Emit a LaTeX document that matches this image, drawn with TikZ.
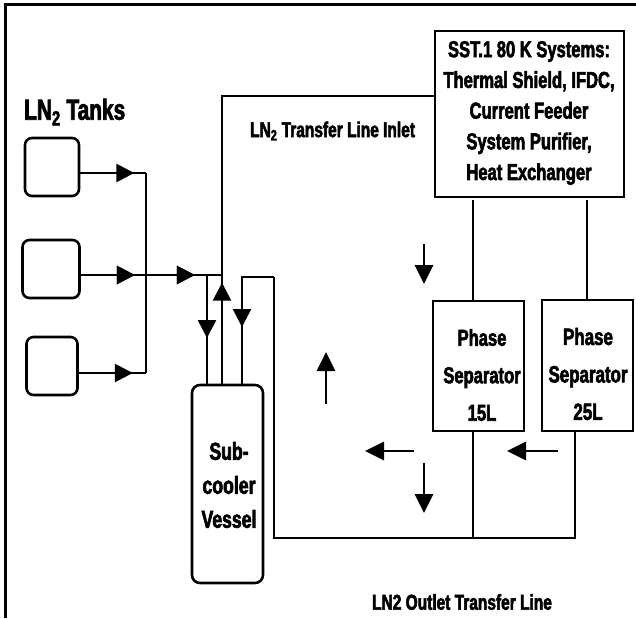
\documentclass[tikz,border=0pt]{standalone}
\usepackage{fontspec}
\setmainfont{Liberation Sans}[FakeStretch=0.72,
  BoldFont={Liberation Sans Bold},BoldFeatures={FakeStretch=0.72,FakeBold=2.5}]
\usetikzlibrary{arrows.meta,decorations.markings}
\begin{document}
\begin{tikzpicture}[x=1pt,y=-1pt,
  pipe/.style={line width=2.7pt},
  box/.style={draw,line width=2.8pt,minimum width=#1},
  tankbox/.style={draw,line width=2.6pt,rounded corners=7pt,minimum width=54pt,minimum height=58pt},
  flowarrow/.style={line width=2.8pt,-{Triangle[length=19pt,width=18pt]}},
  midarrow/.style={postaction={decorate},decoration={markings,
     mark=at position #1 with {\arrow{Triangle[length=18pt,width=18pt]}}}},
  lbl/.style={font=\bfseries,align=center,inner sep=0pt}
]
\useasboundingbox (0,0) rectangle (636,618);
% frame
\coordinate (f0) at (5,618);
\coordinate (f1) at (5,5);
\coordinate (f2) at (636,5);
\draw[line width=3pt] (f0) -- (f1) -- (f2);

% tanks
\node[tankbox] (tank1) at (52,167) {};
\node[tankbox,minimum width=57pt] (tank2) at (51,269) {};
\node[tankbox,minimum width=51pt] (tank3) at (52,366) {};
\node[lbl,anchor=west,font=\bfseries\fontsize{29}{30}\selectfont] (tanks) at (24,112) {LN\textsubscript{2} Tanks};

% SST box
\node[box=189pt,minimum height=166pt] (sst) at (529.5,114) {};
\node[lbl,font=\bfseries\fontsize{23}{30.7}\selectfont] (sstt) at (529,113) {SST.1 80 K Systems:\\Thermal Shield, IFDC,\\Current Feeder\\System Purifier,\\Heat Exchanger};

% phase separators
\node[box=91pt,minimum height=130pt] (ps15) at (478.5,366) {};
\node[lbl,font=\bfseries\fontsize{23}{37.5}\selectfont] (ps15t) at (482,375) {Phase\\Separator\\15L};
\node[box=91pt,minimum height=131pt] (ps25) at (587.5,365.5) {};
\node[lbl,font=\bfseries\fontsize{23.5}{37.5}\selectfont] (ps25t) at (588,374) {Phase\\Separator\\25L};

% vessel
\node[draw,line width=2.6pt,rounded corners=8pt,minimum width=71pt,minimum height=198pt] (vessel) at (227.5,484) {};
\node[lbl,font=\bfseries\fontsize{24.5}{34}\selectfont] (vesselt) at (229,485) {Sub-\\cooler\\Vessel};

% labels
\node[lbl,anchor=west,font=\bfseries\fontsize{21.5}{24}\selectfont] (inlet) at (250,131) {LN\textsubscript{2} Transfer Line Inlet};
\node[lbl,font=\bfseries\fontsize{21.5}{24}\selectfont] (outlet) at (462,602) {LN2 Outlet Transfer Line};

% bus / junction coordinates
\coordinate (b1) at (146,173);
\coordinate (b2) at (146,275);
\coordinate (b3) at (146,373);
\coordinate (j) at (222,275);
\coordinate (c) at (222,96);
\coordinate (v1) at (207,275);
\coordinate (k1) at (242,277);
\coordinate (k2) at (274,277);
\coordinate (k3) at (274,538);
\coordinate (k4) at (575,538);
\coordinate (p15) at (473,538);
\coordinate (s15) at (473,200);
\coordinate (s25) at (587,200);

% tank lines
\draw[pipe,midarrow=54pt] (tank1.east |- b1) -- (b1);
\draw[pipe,midarrow=54pt] (tank3.east |- b3) -- (b3);
\draw[pipe,midarrow=54pt,midarrow=114pt] (tank2.east |- b2) -- (j);
\draw[pipe] (b1) -- (b3);

% inlet line to SST
\draw[pipe] (j) -- (c) -- (sst.west |- c);

% vessel connections
\draw[pipe,midarrow=63pt] (v1) -- (v1 |- vessel.north);
\draw[pipe,midarrow=101pt] (j |- vessel.north) -- (j);
\draw[pipe,midarrow=82pt] (k2) -- (k1) -- (k1 |- vessel.north);

% outlet line
\draw[pipe] (ps25.south -| k4) -- (k4) -- (k3) -- (k2);
\draw[pipe] (ps15.south -| p15) -- (p15);

% SST to separators
\draw[pipe] (s15) -- (s15 |- ps15.north);
\draw[pipe] (s25) -- (s25 |- ps25.north);

% free flow arrows
\coordinate (a1s) at (424,244); \coordinate (a1e) at (424,284);
\coordinate (a2s) at (326,404); \coordinate (a2e) at (326,352);
\coordinate (a3s) at (414,451); \coordinate (a3e) at (365,451);
\coordinate (a4s) at (424,463); \coordinate (a4e) at (424,513);
\coordinate (a5s) at (558,451); \coordinate (a5e) at (507,451);
\draw[flowarrow] (a1s) -- (a1e);
\draw[flowarrow] (a2s) -- (a2e);
\draw[flowarrow] (a3s) -- (a3e);
\draw[flowarrow] (a4s) -- (a4e);
\draw[flowarrow] (a5s) -- (a5e);
\end{tikzpicture}
\end{document}
